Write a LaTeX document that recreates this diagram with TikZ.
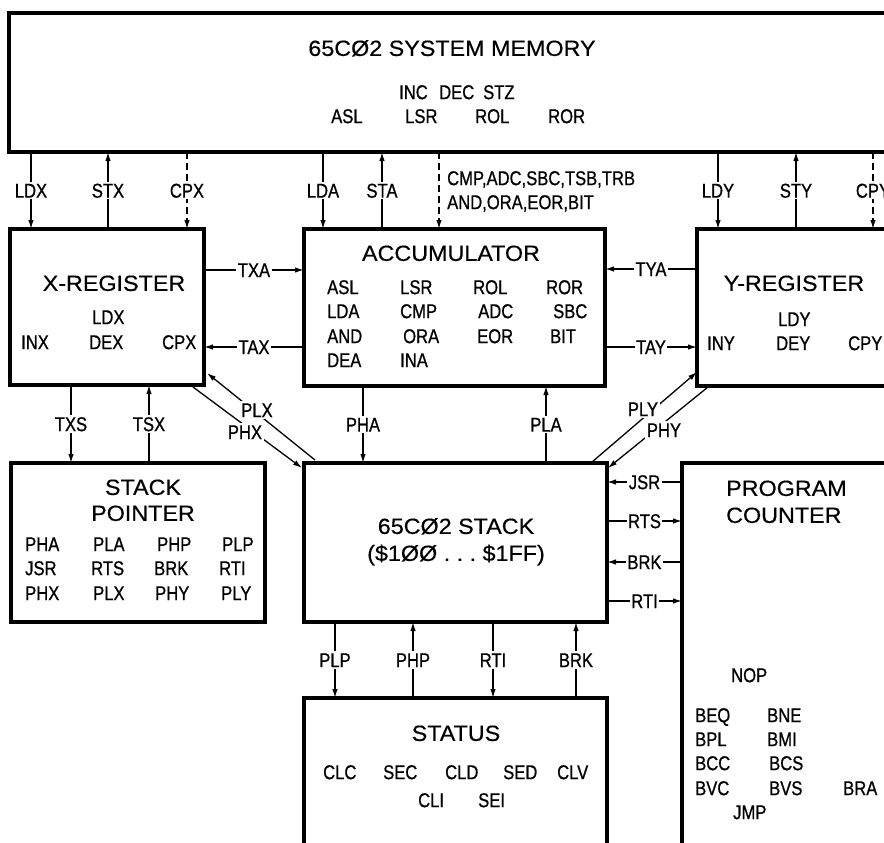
\documentclass[tikz,border=0pt]{standalone}
\usepackage{fontspec}
\setmainfont{Liberation Sans}
\newfontfamily\condfam{Liberation Sans}[FakeStretch=0.83,FakeBold=0.8]
\newfontfamily\widefam{Liberation Sans}[FakeStretch=1.06,FakeBold=0.4]
\usetikzlibrary{arrows.meta,calc}
\newcommand\lblfont{\condfam\fontsize{20}{22}\selectfont}
\newcommand\ttlfont{\widefam\fontsize{22}{26}\selectfont}
\tikzset{
  box/.style={draw, line width=3.2pt, inner sep=0pt, outer sep=0pt, anchor=north west},
  arr/.style={line width=1.3pt, -{Latex[length=9pt,width=5.5pt]}},
  dsh/.style={arr, dash pattern=on 7pt off 4pt},
  lab/.style={font=\lblfont, fill=white, inner sep=1.5pt, text height=14.3pt, text depth=0pt},
  txt/.style={font=\lblfont, inner sep=0pt, anchor=west, text height=14.3pt, text depth=0pt},
  ttl/.style={font=\ttlfont, inner sep=0pt, text height=15.8pt, text depth=0pt},
}
\begin{document}
\begin{tikzpicture}[x=1pt,y=-1pt]
\useasboundingbox (0,0) rectangle (884,843);
\clip (0,0) rectangle (884,843);
% boxes
\node[box, minimum width=912, minimum height=139] (mem) at (9,13) {};
\node[box, minimum width=194, minimum height=156] (xreg) at (10,229) {};
\node[box, minimum width=301, minimum height=157] (acc) at (304,229) {};
\node[box, minimum width=223, minimum height=157] (yreg) at (697,229) {};
\node[box, minimum width=254, minimum height=159] (sp) at (11,463) {};
\node[box, minimum width=303, minimum height=159] (stk) at (304,463) {};
\node[box, minimum width=240, minimum height=420] (pc) at (682,463) {};
\node[box, minimum width=303, minimum height=200] (stat) at (304,698) {};
% memory texts
\node[ttl] (memt) at (452,48) {65CØ2 SYSTEM MEMORY};
\node[txt] (mi1) at (399,92) {INC};
\node[txt] (mi2) at (439,92) {DEC};
\node[txt] (mi3) at (483,92) {STZ};
\node[txt] (mr1) at (331,116) {ASL};
\node[txt] (mr2) at (405,116) {LSR};
\node[txt] (mr3) at (475,116) {ROL};
\node[txt] (mr4) at (548,116) {ROR};
% x register texts
\node[ttl] (xt) at (114,283) {X-REGISTER};
\node[txt] (x1) at (92,317) {LDX};
\node[txt] (x2) at (21,342) {INX};
\node[txt] (x3) at (89,342) {DEX};
\node[txt] (x4) at (162,342) {CPX};
% accumulator texts
\node[ttl] (at) at (451,253) {ACCUMULATOR};
\node[txt] (a11) at (327,287) {ASL};
\node[txt] (a12) at (400,287) {LSR};
\node[txt] (a13) at (473,287) {ROL};
\node[txt] (a14) at (546,287) {ROR};
\node[txt] (a21) at (327,311) {LDA};
\node[txt] (a22) at (400,311) {CMP};
\node[txt] (a23) at (478,311) {ADC};
\node[txt] (a24) at (553,311) {SBC};
\node[txt] (a31) at (327,336) {AND};
\node[txt] (a32) at (403,336) {ORA};
\node[txt] (a33) at (477,336) {EOR};
\node[txt] (a34) at (550,336) {BIT};
\node[txt] (a41) at (327,360) {DEA};
\node[txt] (a42) at (400,360) {INA};
% y register texts
\node[ttl] (yt) at (794,283) {Y-REGISTER};
\node[txt] (y1) at (778,319) {LDY};
\node[txt] (y2) at (707,343) {INY};
\node[txt] (y3) at (776,343) {DEY};
\node[txt] (y4) at (848,343) {CPY};
% stack pointer texts
\node[ttl] (spt1) at (143,487) {STACK};
\node[ttl] (spt2) at (143,513) {POINTER};
\node[txt] (s11) at (25,544) {PHA};
\node[txt] (s12) at (93,544) {PLA};
\node[txt] (s13) at (157,544) {PHP};
\node[txt] (s14) at (222,544) {PLP};
\node[txt] (s21) at (25,568) {JSR};
\node[txt] (s22) at (91,568) {RTS};
\node[txt] (s23) at (154,568) {BRK};
\node[txt] (s24) at (219,568) {RTI};
\node[txt] (s31) at (25,593) {PHX};
\node[txt] (s32) at (93,593) {PLX};
\node[txt] (s33) at (155,593) {PHY};
\node[txt] (s34) at (221,593) {PLY};
% stack texts
\node[ttl] (st1) at (456,526) {65CØ2 STACK};
\node[ttl] (st2) at (456,553) {(\$1ØØ\ .\ .\ .\ \$1FF)};
% status texts
\node[ttl] (stt) at (456,733) {STATUS};
\node[txt] (c1) at (323,772) {CLC};
\node[txt] (c2) at (383,772) {SEC};
\node[txt] (c3) at (445,772) {CLD};
\node[txt] (c4) at (503,772) {SED};
\node[txt] (c5) at (557,772) {CLV};
\node[txt] (c6) at (418,800) {CLI};
\node[txt] (c7) at (478,800) {SEI};
% program counter texts
\node[ttl, anchor=west] (pct1) at (726,488) {PROGRAM};
\node[ttl, anchor=west] (pct2) at (726,515) {COUNTER};
\node[txt] (p0) at (731,675) {NOP};
\node[txt] (p11) at (695,715) {BEQ};
\node[txt] (p12) at (767,715) {BNE};
\node[txt] (p21) at (695,739) {BPL};
\node[txt] (p22) at (767,739) {BMI};
\node[txt] (p31) at (695,763) {BCC};
\node[txt] (p32) at (769,763) {BCS};
\node[txt] (p41) at (695,788) {BVC};
\node[txt] (p42) at (769,788) {BVS};
\node[txt] (p43) at (843,788) {BRA};
\node[txt] (p5) at (733,812) {JMP};
% memory <-> registers
\coordinate (ldx) at ([shift={(21,0)}]xreg.north west);
\coordinate (stx) at ([shift={(98,0)}]xreg.north west);
\coordinate (cpx) at ([shift={(177,0)}]xreg.north west);
\coordinate (lda) at ([shift={(19,0)}]acc.north west);
\coordinate (sta) at ([shift={(78,0)}]acc.north west);
\coordinate (cmp) at ([shift={(135,0)}]acc.north west);
\coordinate (ldy) at ([shift={(21,0)}]yreg.north west);
\coordinate (sty) at ([shift={(99,0)}]yreg.north west);
\coordinate (cpy) at ([shift={(176,0)}]yreg.north west);
\draw[arr] (ldx |- mem.south) -- node[lab] {LDX} (ldx);
\draw[arr] (stx) -- node[lab] {STX} (stx |- mem.south);
\draw[dsh] (cpx |- mem.south) -- node[lab] {CPX} (cpx);
\draw[arr] (lda |- mem.south) -- node[lab] {LDA} (lda);
\draw[arr] (sta) -- node[lab] {STA} (sta |- mem.south);
\draw[dsh] (cmp |- mem.south) -- (cmp);
\node[txt] (cmpt1) at (447,178) {CMP,ADC,SBC,TSB,TRB};
\node[txt] (cmpt2) at (447,202) {AND,ORA,EOR,BIT};
\draw[arr] (ldy |- mem.south) -- node[lab] {LDY} (ldy);
\draw[arr] (sty) -- node[lab] {STY} (sty |- mem.south);
\draw[dsh] (cpy |- mem.south) -- node[lab] {CPY} (cpy);
% transfers between registers
\coordinate (txa) at ([shift={(0,41)}]xreg.north east);
\coordinate (tax) at ([shift={(0,118)}]xreg.north east);
\coordinate (tya) at ([shift={(0,40)}]yreg.north west);
\coordinate (tay) at ([shift={(0,118)}]yreg.north west);
\draw[arr] (txa) -- node[lab] {TXA} (txa -| acc.west);
\draw[arr] (tax -| acc.west) -- node[lab] {TAX} (tax);
\draw[arr] (tya) -- node[lab] {TYA} (tya -| acc.east);
\draw[arr] (tay -| acc.east) -- node[lab] {TAY} (tay);
% x register <-> stack pointer
\coordinate (txs) at ([shift={(61,0)}]xreg.south west);
\coordinate (tsx) at ([shift={(139,0)}]xreg.south west);
\draw[arr] (txs) -- node[lab] {TXS} (txs |- sp.north);
\draw[arr] (tsx |- sp.north) -- node[lab] {TSX} (tsx);
% accumulator <-> stack
\coordinate (pha) at ([shift={(59,0)}]acc.south west);
\coordinate (pla) at ([shift={(242,0)}]acc.south west);
\draw[arr] (pha) -- node[lab] {PHA} (pha |- stk.north);
\draw[arr] (pla |- stk.north) -- node[lab] {PLA} (pla);
% stack <-> status
\coordinate (plp) at ([shift={(31,0)}]stk.south west);
\coordinate (php) at ([shift={(109,0)}]stk.south west);
\coordinate (rti) at ([shift={(189,0)}]stk.south west);
\coordinate (brk) at ([shift={(272,0)}]stk.south west);
\draw[arr] (plp) -- node[lab] {PLP} (plp |- stat.north);
\draw[arr] (php |- stat.north) -- node[lab] {PHP} (php);
\draw[arr] (rti) -- node[lab] {RTI} (rti |- stat.north);
\draw[arr] (brk |- stat.north) -- node[lab] {BRK} (brk);
% stack <-> program counter
\coordinate (jsr) at ([shift={(0,19)}]pc.north west);
\coordinate (rts) at ([shift={(0,58)}]pc.north west);
\coordinate (brk2) at ([shift={(0,99)}]pc.north west);
\coordinate (rti2) at ([shift={(0,138)}]pc.north west);
\draw[arr] (jsr) -- node[lab] {JSR} (jsr -| stk.east);
\draw[arr] (rts -| stk.east) -- node[lab] {RTS} (rts);
\draw[arr] (brk2) -- node[lab] {BRK} (brk2 -| stk.east);
\draw[arr] (rti2 -| stk.east) -- node[lab] {RTI} (rti2);
% diagonals
\draw[arr] ([shift={(11,-3)}]stk.north west) -- ([shift={(3,-12)}]xreg.south east);
\draw[arr] ([shift={(-11,2)}]xreg.south east) -- ([shift={(-2,5)}]stk.north west);
\draw[arr] ([shift={(-15,-1)}]stk.north east) -- ([shift={(0,-14)}]yreg.south west);
\draw[arr] ([shift={(11,1)}]yreg.south west) -- ([shift={(1,5)}]stk.north east);
\node[lab] (plxl) at (257,410) {PLX};
\node[lab] (phxl) at (245,432) {PHX};
\node[lab] (plyl) at (643,409) {PLY};
\node[lab] (phyl) at (664,430) {PHY};
\end{tikzpicture}
\end{document}
